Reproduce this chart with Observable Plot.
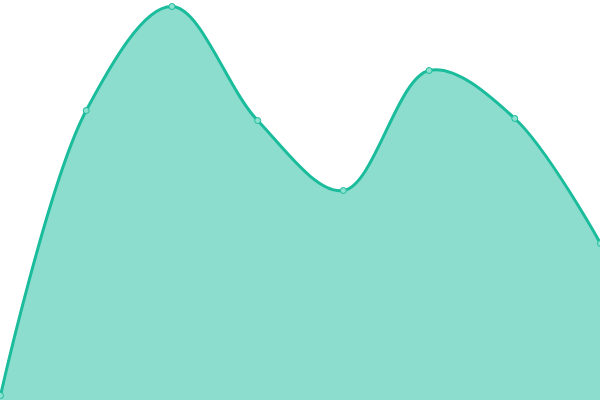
<!DOCTYPE html>
<html>
<head>
<meta charset="utf-8">
<script src="https://cdn.jsdelivr.net/npm/d3@7"></script>
<script src="https://cdn.jsdelivr.net/npm/@observablehq/plot@0.6"></script>
<style>
  html, body { margin: 0; padding: 0; background: #fff; }
  svg { display: block; }
</style>
</head>
<body>
<div id="chart"></div>
<script>
const categories = ["1", "2", "3", "4", "5", "6", "7", "8"];
const values = [5, 290, 394, 280, 210, 330, 282, 157];

const data = categories.map((c, i) => ({cat: c, value: values[i]}));

const chart = Plot.plot({
  width: 600,
  height: 400,
  margin: 0,
  x: {type: "point", domain: categories, padding: 0, round: false, axis: null},
  y: {domain: [0, 400], axis: null},
  marks: [
    Plot.areaY(data, {x: "cat", y: "value", curve: "catmull-rom", fill: "#1abc9c", fillOpacity: 0.5}),
    Plot.lineY(data, {x: "cat", y: "value", curve: "catmull-rom", stroke: "#1abc9c", strokeWidth: 3}),
    Plot.dot(data, {x: "cat", y: "value", r: 3, fill: "#8ce0cf", stroke: "#1abc9c", strokeWidth: 1})
  ]
});
document.getElementById("chart").appendChild(chart);
</script>
</body>
</html>
